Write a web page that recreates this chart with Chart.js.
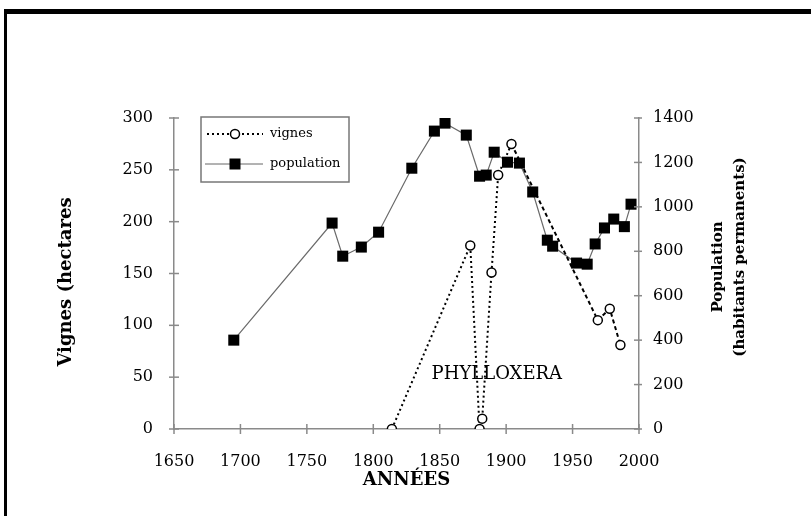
<!DOCTYPE html>
<html>
<head>
<meta charset="utf-8">
<script src="https://cdn.jsdelivr.net/npm/chart.js@4.4.1/dist/chart.umd.min.js"></script>
<style>
  html, body { margin: 0; padding: 0; background: #fff; overflow: hidden; }
  #wrap { position: relative; width: 811px; height: 516px; }
  #frame { position: absolute; left: 4px; top: 9px; right: 0; bottom: 0;
           border-top: 5px solid #000; border-left: 3px solid #000; pointer-events: none; }
</style>
</head>
<body>
<div id="wrap">
  <canvas id="myChart" width="811" height="516"></canvas>
  <div id="frame"></div>
</div>
<script>
// vignes (hectares), axe de gauche
const anneesVignes = [1814, 1873, 1880, 1882, 1889, 1894, 1904, 1969, 1978, 1986];
const vignes = [0, 177, 0, 10, 151, 245, 275, 105, 116, 81];
// population (habitants permanents), axe de droite
const anneesPop = [1695, 1769, 1777, 1791, 1804, 1829, 1846, 1854, 1870, 1880, 1885, 1891,
  1901, 1910, 1920, 1931, 1935, 1953, 1961, 1967, 1974, 1981, 1989, 1994];
const population = [400, 927, 778, 819, 886, 1174, 1341, 1377, 1323, 1138, 1143, 1246,
  1201, 1197, 1067, 850, 823, 747, 742, 833, 905, 945, 911, 1012];
const xTicks = [1650, 1700, 1750, 1800, 1850, 1900, 1950, 2000];

const serif = 'DejaVu Serif';
const axisColor = '#8a8a8a';

const crossTicks = {
  id: 'crossTicks',
  afterDraw(chart) {
    const ctx = chart.ctx;
    ctx.save();
    ctx.strokeStyle = axisColor;
    ctx.lineWidth = 1.5;
    const sx = chart.scales.x, sy = chart.scales.y, sy1 = chart.scales.y1;
    sx.ticks.forEach(t => {
      const px = sx.getPixelForValue(t.value);
      ctx.beginPath(); ctx.moveTo(px, sx.top - 5); ctx.lineTo(px, sx.top + 5); ctx.stroke();
    });
    sy.ticks.forEach(t => {
      const py = sy.getPixelForValue(t.value);
      ctx.beginPath(); ctx.moveTo(sy.right - 5, py); ctx.lineTo(sy.right + 5, py); ctx.stroke();
    });
    sy1.ticks.forEach(t => {
      const py = sy1.getPixelForValue(t.value);
      ctx.beginPath(); ctx.moveTo(sy1.left - 5, py); ctx.lineTo(sy1.left + 3, py); ctx.stroke();
    });
    ctx.restore();
  }
};

const textes = {
  id: 'textes',
  afterDraw(chart) {
    const ctx = chart.ctx;
    const a = chart.chartArea;
    ctx.save();
    ctx.fillStyle = '#000';
    ctx.textAlign = 'center';
    ctx.textBaseline = 'middle';
    ctx.font = 'bold 18px "' + serif + '"';
    ctx.fillText('ANNÉES', (a.left + a.right) / 2, 480);

    ctx.save();
    ctx.translate(66, 282);
    ctx.rotate(-Math.PI / 2);
    ctx.fillText('Vignes (hectares', 0, 0);
    ctx.restore();

    ctx.font = 'bold 15px "' + serif + '"';
    ctx.save();
    ctx.translate(718, 267);
    ctx.rotate(-Math.PI / 2);
    ctx.fillText('Population', 0, 0);
    ctx.restore();
    ctx.save();
    ctx.translate(740, 257);
    ctx.rotate(-Math.PI / 2);
    ctx.fillText('(habitants permanents)', 0, 0);
    ctx.restore();

    ctx.font = '18px "' + serif + '"';
    ctx.fillText('PHYLLOXERA', chart.scales.x.getPixelForValue(1893), chart.scales.y.getPixelForValue(53));

    // légende
    const lx = a.left + 27, ly = a.top - 1;
    ctx.strokeStyle = '#777';
    ctx.lineWidth = 1.5;
    ctx.strokeRect(lx, ly, 148, 65);
    const r1 = ly + 17, r2 = ly + 47;
    ctx.strokeStyle = '#000';
    ctx.lineWidth = 2;
    ctx.setLineDash([2, 3]);
    ctx.beginPath(); ctx.moveTo(lx + 6, r1); ctx.lineTo(lx + 62, r1); ctx.stroke();
    ctx.setLineDash([]);
    ctx.fillStyle = '#fff';
    ctx.lineWidth = 1.5;
    ctx.beginPath(); ctx.arc(lx + 34, r1, 4.5, 0, Math.PI * 2); ctx.fill(); ctx.stroke();
    ctx.strokeStyle = '#666';
    ctx.lineWidth = 1;
    ctx.beginPath(); ctx.moveTo(lx + 4, r2); ctx.lineTo(lx + 62, r2); ctx.stroke();
    ctx.fillStyle = '#000';
    ctx.fillRect(lx + 28.5, r2 - 5.5, 11, 11);
    ctx.font = '13px "' + serif + '"';
    ctx.textAlign = 'left';
    ctx.fillText('vignes', lx + 69, r1);
    ctx.fillText('population', lx + 69, r2);
    ctx.restore();
  }
};

const ctx1 = document.getElementById('myChart').getContext('2d');
const myChart = new Chart(ctx1, {
  type: 'line',
  data: {
    datasets: [
      {
        label: 'vignes',
        data: anneesVignes.map((x, i) => ({ x: x, y: vignes[i] })),
        yAxisID: 'y',
        borderColor: '#000',
        borderWidth: 2,
        borderDash: [2, 3],
        segment: {
          borderDash: c => c.p0DataIndex >= 6 ? [4, 3] : [2, 3]
        },
        pointStyle: 'circle',
        pointRadius: 4.5,
        pointBackgroundColor: '#fff',
        pointBorderColor: '#000',
        pointBorderWidth: 1.5,
        tension: 0
      },
      {
        label: 'population',
        data: anneesPop.map((x, i) => ({ x: x, y: population[i] })),
        yAxisID: 'y1',
        borderColor: '#6a6a6a',
        borderWidth: 1.2,
        pointStyle: 'rect',
        pointRadius: 7.8,
        pointBackgroundColor: '#000',
        pointBorderColor: '#000',
        pointBorderWidth: 0,
        tension: 0
      }
    ]
  },
  options: {
    responsive: false,
    animation: false,
    layout: { padding: { top: 118, left: 0, right: 0, bottom: 0 } },
    plugins: {
      legend: { display: false },
      tooltip: { enabled: false }
    },
    scales: {
      x: {
        type: 'linear',
        min: 1650,
        max: 2000,
        afterBuildTicks: s => { s.ticks = xTicks.map(v => ({ value: v })); },
        afterFit: s => { s.height = 87; },
        grid: { display: false, drawTicks: false },
        border: { display: true, color: axisColor, width: 1.5 },
        ticks: {
          padding: 23,
          color: '#000',
          font: { family: serif, size: 16 },
          callback: v => String(v)
        }
      },
      y: {
        position: 'left',
        min: 0,
        max: 300,
        afterFit: s => { s.width = 174; },
        grid: { display: false, drawTicks: false },
        border: { display: true, color: axisColor, width: 1.5 },
        ticks: {
          stepSize: 50,
          padding: 21,
          color: '#000',
          font: { family: serif, size: 16 },
          callback: v => String(v)
        }
      },
      y1: {
        position: 'right',
        min: 0,
        max: 1400,
        afterFit: s => { s.width = 172; },
        grid: { display: false, drawTicks: false },
        border: { display: true, color: axisColor, width: 1.5 },
        ticks: {
          stepSize: 200,
          padding: 14,
          color: '#000',
          font: { family: serif, size: 16 },
          callback: v => String(v)
        }
      }
    }
  },
  plugins: [crossTicks, textes]
});
</script>
</body>
</html>
